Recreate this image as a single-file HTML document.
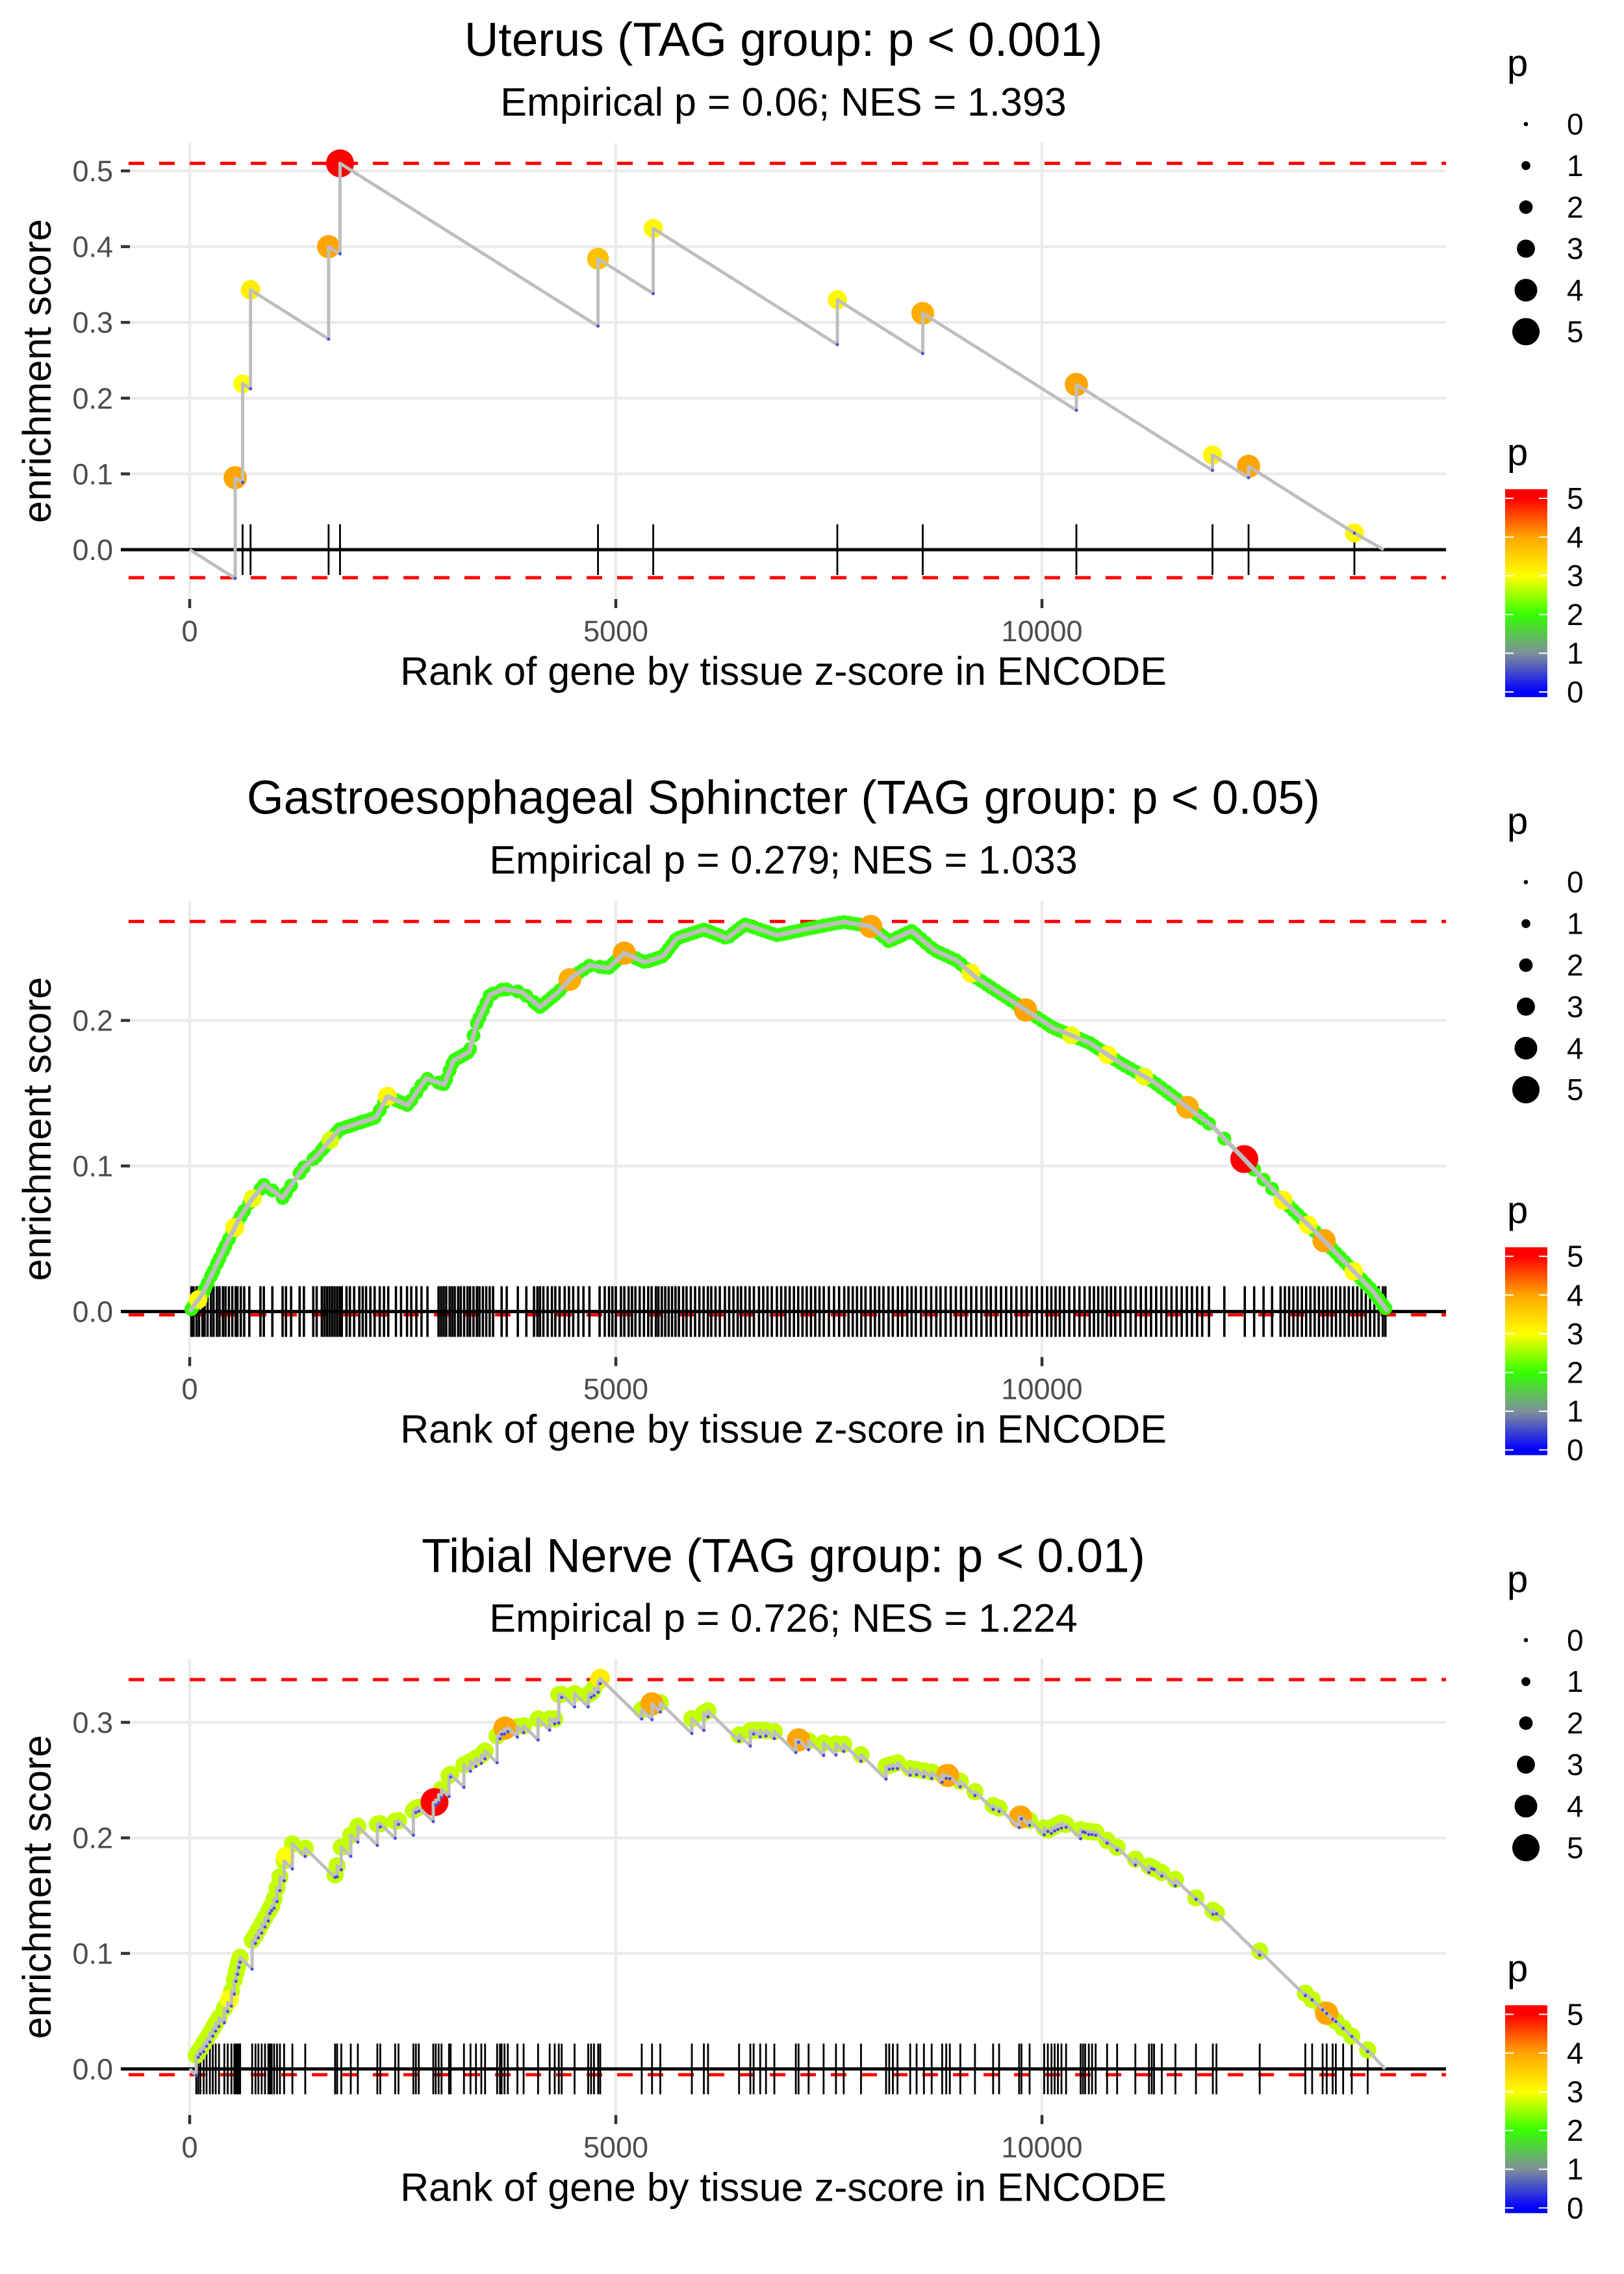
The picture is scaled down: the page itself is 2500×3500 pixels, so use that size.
<!DOCTYPE html>
<html><head><meta charset="utf-8"><title>Enrichment plots</title>
<style>
html,body{margin:0;padding:0;background:#fff;}
svg{display:block;font-family:"Liberation Sans",Arial,sans-serif;}
</style></head>
<body>
<svg id="fig" xmlns="http://www.w3.org/2000/svg" width="2500" height="3500" viewBox="0 0 2500 3500">
<defs>
<linearGradient id="pgrad" x1="0" y1="0" x2="0" y2="1">
<stop offset="0" stop-color="#ff0000"/>
<stop offset="0.044" stop-color="#ff0000"/>
<stop offset="0.230" stop-color="#ffa500"/>
<stop offset="0.417" stop-color="#ffff00"/>
<stop offset="0.603" stop-color="#33ff00"/>
<stop offset="0.789" stop-color="#7f8f9a"/>
<stop offset="0.975" stop-color="#0000ff"/>
<stop offset="1" stop-color="#0000ff"/>
</linearGradient>
</defs>
</svg>
<script>
// ---------------- shared axis data ----------------
const xTicks = [0, 5000, 10000];
const xTickLabels = ["0", "5000", "10000"];
const legendSizes = [0, 1, 2, 3, 4, 5];
const titles = ["Uterus (TAG group: p < 0.001)", "Gastroesophageal Sphincter (TAG group: p < 0.05)", "Tibial Nerve (TAG group: p < 0.01)"];
const subtitles = ["Empirical p = 0.06; NES = 1.393", "Empirical p = 0.279; NES = 1.033", "Empirical p = 0.726; NES = 1.224"];

// ---------------- panel 1 (Uterus) ----------------
const p1HitRank = [534, 621, 714, 1630, 1764, 4791, 5439, 7599, 8601, 10404, 12001, 12424, 13666];
const p1HitES = [0.095, 0.219, 0.343, 0.400, 0.510, 0.384, 0.424, 0.330, 0.312, 0.218, 0.125, 0.110, 0.022];
const p1HitP = [4.0, 3.0, 3.2, 4.0, 5.0, 3.7, 3.1, 3.1, 3.9, 4.0, 3.1, 4.0, 3.1];
const p1YTicks = [0, 0.1, 0.2, 0.3, 0.4, 0.5];
const p1Max = 0.510, p1Min = -0.037;
const p1End = 14009;
const p1MissStep = 0.000071;

// ---------------- panel 2 (Gastroesophageal Sphincter) ----------------
const p2CurveRank = [0,154,288,422,582,716,876,1090,1331,1491,1758,1972,2186,2320,2560,2774,2988,3095,3282,3362,3523,3683,3896,4111,4325,4485,4699,4913,5100,5341,5555,5715,6035,6303,6516,6891,7212,7669,7990,8204,8471,8739,9006,9220,9487,9808,10129,10557,10931,11305,11679,12000,12374,12802,13230,13604,13872,14059];
const p2CurveES = [0,0.0125,0.0289,0.0453,0.0638,0.076,0.0873,0.078,0.0986,0.1068,0.1252,0.1293,0.1334,0.1478,0.1417,0.1601,0.156,0.1724,0.1785,0.197,0.2175,0.2216,0.2195,0.2092,0.2195,0.2297,0.2379,0.2359,0.2462,0.240,0.2441,0.2564,0.2625,0.2564,0.266,0.2585,0.2625,0.2677,0.2646,0.2543,0.2615,0.2482,0.241,0.2297,0.2195,0.2072,0.1949,0.1846,0.1703,0.158,0.1416,0.1273,0.1047,0.078,0.0535,0.0309,0.0146,0];
const p2HitRank = [20,45,80,110,150,175,210,250,280,320,350,390,420,460,500,540,560,600,640,700,830,870,970,1090,1130,1190,1290,1340,1450,1490,1550,1580,1610,1640,1670,1700,1730,1760,1785,1840,1880,1930,1990,2030,2070,2120,2170,2230,2280,2330,2420,2480,2550,2600,2660,2720,2790,2920,2950,2980,3010,3050,3080,3110,3150,3180,3220,3260,3290,3330,3370,3400,3440,3480,3520,3560,3660,3720,3850,3950,4040,4080,4110,4150,4200,4250,4290,4340,4400,4450,4500,4560,4620,4690,4810,4870,4920,4960,5000,5060,5100,5150,5190,5230,5280,5330,5380,5420,5470,5500,5540,5580,5620,5660,5700,5740,5790,5830,5880,5930,5980,6030,6080,6120,6170,6220,6280,6330,6380,6430,6470,6520,6570,6620,6680,6730,6780,6830,6890,6940,6990,7040,7090,7140,7190,7240,7290,7340,7390,7440,7500,7560,7620,7680,7730,7780,7830,7880,7930,7990,8040,8090,8140,8200,8250,8310,8360,8420,8470,8520,8580,8640,8700,8760,8810,8870,8930,8990,9050,9110,9170,9230,9290,9350,9400,9460,9520,9580,9640,9700,9760,9820,9880,9940,10000,10060,10110,10160,10210,10260,10320,10380,10440,10500,10560,10610,10660,10710,10760,10810,10860,10920,10980,11040,11100,11160,11220,11280,11340,11400,11460,11520,11580,11640,11700,11760,11820,11880,11960,12140,12380,12490,12600,12700,12800,12850,12900,12950,13000,13050,13100,13150,13200,13250,13300,13350,13400,13450,13500,13550,13600,13650,13700,13750,13800,13850,13900,13950,14000,14030];
const p2DefaultP = 2.0;
const p2HlRank = [100, 530, 740, 1650, 2320, 4460, 5100, 7990, 9167, 9808, 10343, 10771, 11199, 11707, 12374, 12830, 13124, 13310, 13658];
const p2HlP = [3.0, 3.1, 2.9, 2.8, 3.1, 3.9, 4.0, 4.0, 3.1, 4.0, 2.9, 3.0, 2.9, 3.9, 5.0, 3.1, 3.0, 4.0, 3.0];
const p2YTicks = [0, 0.1, 0.2];
const p2Max = 0.268, p2Min = -0.0023;

// ---------------- panel 3 (Tibial Nerve) ----------------
const p3EnvRank = [0,28,223,466,587,758,976,1122,1195,1341,1706,1779,1973,2216,2459,2654,2873,3043,3213,3432,3626,3699,3918,4088,4283,4331,4501,4696,4817,5304,5425,5522,5887,6082,6446,6592,6762,6860,7112,7262,7449,7674,7877,8171,8305,8454,8706,8893,9042,9214,9427,9748,9855,10069,10229,10497,10630,10818,11085,11299,11566,11807,12047,12555,13090,13170,13357,13438,13625,13822,14026];
const p3EnvES = [0,0.006,0.029,0.060,0.096,0.114,0.143,0.184,0.195,0.192,0.168,0.192,0.210,0.212,0.215,0.2255,0.231,0.254,0.263,0.272,0.290,0.295,0.297,0.303,0.303,0.324,0.325,0.324,0.338,0.311,0.316,0.317,0.303,0.310,0.289,0.293,0.293,0.292,0.285,0.284,0.282,0.281,0.272,0.262,0.265,0.260,0.257,0.254,0.249,0.240,0.228,0.218,0.215,0.207,0.213,0.206,0.205,0.195,0.182,0.174,0.164,0.148,0.135,0.102,0.0655,0.060,0.047,0.042,0.029,0.0164,0];
const p3HitRank = [77,101,126,164,198,237,271,305,344,407,446,490,524,544,563,578,592,733,772,806,845,884,923,942,962,991,1025,1059,1108,1205,1356,1706,1730,1779,1890,1973,2202,2236,2411,2450,2625,2654,2688,2858,2887,2921,2955,3043,3062,3218,3295,3359,3422,3466,3607,3641,3660,3694,3733,3845,3918,4088,4224,4283,4331,4365,4516,4676,4710,4744,4793,4817,5304,5425,5522,5892,6033,6082,6446,6578,6617,6694,6762,6860,7112,7144,7262,7438,7583,7674,7877,8171,8208,8251,8305,8454,8529,8615,8706,8829,8877,8919,9042,9214,9427,9497,9732,9759,9855,10026,10069,10112,10149,10187,10229,10283,10454,10481,10507,10550,10588,10630,10764,10882,11096,11256,11288,11315,11406,11566,11807,12005,12047,12555,13090,13170,13293,13341,13411,13448,13534,13635,13822];
const p3DefaultP = 2.7;
const p3HlRank = [466, 1122, 2873, 3699, 4817, 5425, 7144, 8893, 9748, 13341];
const p3HlP = [3.0, 3.0, 5.0, 4.0, 3.2, 4.0, 4.0, 4.0, 4.0, 4.0];
const p3YTicks = [0, 0.1, 0.2, 0.3];
const p3Max = 0.337, p3Min = -0.005;
const p3End = 14026;
const p3MissStep = 0.000072;

// ---------------- geometry ----------------
const NS = "http://www.w3.org/2000/svg";
const svg = document.getElementById("fig");
const PANEL_H = 3500 / 3;
const PL = 186, PR = 2226, PT = 220, PB = 922;
const X0 = 292, XK = 0.1312;
function xs(r) { return X0 + r * XK; }
function mk(tag, attrs, parent) {
  const e = document.createElementNS(NS, tag);
  for (const k in attrs) e.setAttribute(k, attrs[k]);
  (parent || svg).appendChild(e);
  return e;
}
function lerpHex(a, b, t) {
  const pa = [1,3,5].map(i => parseInt(a.substr(i,2),16));
  const pb = [1,3,5].map(i => parseInt(b.substr(i,2),16));
  return "rgb(" + pa.map((v,i) => Math.round(v + (pb[i]-v)*t)).join(",") + ")";
}
const cstops = ["#0000ff", "#7f8f9a", "#33ff00", "#ffff00", "#ffa500", "#ff0000"];
function pColor(p) {
  const q = Math.max(0, Math.min(5, p));
  const i = Math.min(4, Math.floor(q));
  return lerpHex(cstops[i], cstops[i+1], q - i);
}
function pRadius(p) { return 3.5 + 3.6 * p; }
function interp(xa, ya, x) {
  if (x <= xa[0]) return ya[0];
  for (let i = 1; i < xa.length; i++) {
    if (x <= xa[i]) { const t = (x - xa[i-1]) / (xa[i] - xa[i-1]); return ya[i-1] + t * (ya[i] - ya[i-1]); }
  }
  return ya[ya.length-1];
}

function drawFrame(idx, g, ys, yTicks, esMax, esMin) {
  const off = idx * PANEL_H;
  const t = mk("text", {x: 1206, y: off + 86, "text-anchor": "middle", "font-size": 73, fill: "#000"}, g);
  t.textContent = titles[idx];
  
  
  const st = mk("text", {x: 1206, y: off + 178, "text-anchor": "middle", "font-size": 61, fill: "#000"}, g);
  st.textContent = subtitles[idx];
  
  
  yTicks.forEach(v => {
    const gl = mk("line", {x1: PL, x2: PR, y1: ys(v), y2: ys(v), stroke: "#ebebeb", "stroke-width": 4.5}, g);
    
    
  });
  xTicks.forEach(v => {
    const gl = mk("line", {x1: xs(v), x2: xs(v), y1: off + PT, y2: off + PB, stroke: "#ebebeb", "stroke-width": 4.5}, g);
    
    
  });
  yTicks.forEach(v => {
    const tk = mk("line", {x1: PL, x2: PL + 14, y1: ys(v), y2: ys(v), stroke: "#333", "stroke-width": 4.5}, g);
    
    
    const tl = mk("text", {x: 174, y: ys(v) + 16, "text-anchor": "end", "font-size": 45, fill: "#4d4d4d"}, g);
    tl.textContent = v.toFixed(1);
    
    
  });
  xTicks.forEach((v, i) => {
    const tk = mk("line", {x1: xs(v), x2: xs(v), y1: off + PB, y2: off + PB + 14, stroke: "#333", "stroke-width": 4.5}, g);
    
    
    const tl = mk("text", {x: xs(v), y: off + 987, "text-anchor": "middle", "font-size": 45, fill: "#4d4d4d"}, g);
    tl.textContent = xTickLabels[i];
    
    
  });
  const xt = mk("text", {x: 1206, y: off + 1054, "text-anchor": "middle", "font-size": 61, fill: "#000"}, g);
  xt.textContent = "Rank of gene by tissue z-score in ENCODE";
  
  
  const yt = mk("text", {x: 0, y: 0, "text-anchor": "middle", "font-size": 61, fill: "#000", transform: "translate(78," + (off + 571) + ") rotate(-90)"}, g);
  yt.textContent = "enrichment score";
  
  
  const zl = mk("line", {x1: PL, x2: PR, y1: ys(0), y2: ys(0), stroke: "#000", "stroke-width": 5}, g);
  
  
  [esMax, esMin].forEach(v => {
    const dl = mk("line", {x1: PL, x2: PR, y1: ys(v), y2: ys(v), stroke: "#ff0000", "stroke-width": 5, "stroke-dasharray": "24 23", "stroke-dashoffset": -12}, g);
    
    
  });
}

function drawRug(g, ys, ranks, w) {
  ranks.forEach(r => {
    const l = mk("line", {x1: xs(r), x2: xs(r), y1: ys(0) - 39, y2: ys(0) + 39, stroke: "#000", "stroke-width": w}, g);
    
    
  });
}

function drawLegend(idx) {
  const off = idx * PANEL_H;
  const g = mk("g", {});
  
  
  const lt = mk("text", {x: 2320, y: off + 117, "font-size": 58, fill: "#000"}, g);
  lt.textContent = "p";
  
  
  legendSizes.forEach((s, i) => {
    const cy = off + 191 + i * 63.9;
    const c = mk("circle", {cx: 2349, cy: cy, r: 3.3 + 3.55 * s, fill: "#000"}, g);
    
    
    const tl = mk("text", {x: 2412, y: cy + 16, "font-size": 46, fill: "#000"}, g);
    tl.textContent = String(s);
    
    
  });
  const ct = mk("text", {x: 2320, y: off + 716, "font-size": 58, fill: "#000"}, g);
  ct.textContent = "p";
  
  
  const bar = mk("rect", {x: 2317, y: off + 753, width: 65, height: 320, fill: "url(#pgrad)"}, g);
  
  
  legendSizes.forEach(s => {
    const ty = off + 767 + (5 - s) * 59.6;
    const a = mk("line", {x1: 2317, x2: 2330, y1: ty, y2: ty, stroke: "#fff", "stroke-width": 2}, g);
    
    
    const b = mk("line", {x1: 2369, x2: 2382, y1: ty, y2: ty, stroke: "#fff", "stroke-width": 2}, g);
    
    
    const tl = mk("text", {x: 2412, y: ty + 16, "font-size": 46, fill: "#000"}, g);
    tl.textContent = String(s);
    
    
  });
}

function point(g, r, v, p, ys, name) {
  const c = mk("circle", {cx: xs(r), cy: ys(v), r: pRadius(p), fill: pColor(p)}, g);
  
  
}
function tinyPoint(g, r, v, ys) {
  const c = mk("circle", {cx: xs(r), cy: ys(v), r: 2.4, fill: "#4a4adf"}, g);
  
  
}

// ---------------- Panel 1 ----------------
(function () {
  const off = 0;
  const ys = v => off + 846 - v * 1166;
  const g = mk("g", {});
  
  
  drawFrame(0, g, ys, p1YTicks, p1Max, p1Min);
  drawRug(g, ys, p1HitRank, 2.8);
  let prevR = 0, prevV = 0;
  const pts = [[0, 0]];
  const bottoms = [];
  p1HitRank.forEach((r, i) => {
    const b = prevV - p1MissStep * (r - prevR);
    bottoms.push(b);
    pts.push([r, b]); pts.push([r, p1HitES[i]]);
    prevR = r; prevV = p1HitES[i];
  });
  pts.push([p1End, 0]);
  p1HitRank.forEach((r, i) => point(g, r, p1HitES[i], p1HitP[i], ys, 'hit-point'));
  const path = mk("polyline", {points: pts.map(q => xs(q[0]) + "," + ys(q[1])).join(" "), fill: "none", stroke: "#bebebe", "stroke-width": 5, "stroke-linejoin": "round"}, g);
  
  
  p1HitRank.forEach((r, i) => tinyPoint(g, r, bottoms[i], ys));
  drawLegend(0);
})();

// ---------------- Panel 2 ----------------
(function () {
  const off = PANEL_H;
  const ys = v => off + 851.9 - v * 2240;
  const g = mk("g", {});
  
  
  drawFrame(1, g, ys, p2YTicks, p2Max, p2Min);
  drawRug(g, ys, p2HitRank, 3.6);
  p2HitRank.forEach(r => point(g, r, interp(p2CurveRank, p2CurveES, r), p2DefaultP, ys, 'hit-point'));
  p2HlRank.forEach((r, i) => point(g, r, interp(p2CurveRank, p2CurveES, r), p2HlP[i], ys, 'highlight-hit-point'));
  const path = mk("polyline", {points: p2CurveRank.map((r, i) => xs(r) + "," + ys(p2CurveES[i])).join(" "), fill: "none", stroke: "#bebebe", "stroke-width": 7, "stroke-linejoin": "round"}, g);
  
  
  drawLegend(1);
})();

// ---------------- Panel 3 ----------------
(function () {
  const off = 2 * PANEL_H;
  const ys = v => off + 851 - v * 1778;
  const g = mk("g", {});
  
  
  drawFrame(2, g, ys, p3YTicks, p3Max, p3Min);
  drawRug(g, ys, p3HitRank, 2.8);
  let prevR = 0, prevV = 0;
  const pts = [[0, 0]];
  const peaks = [], bottoms = [];
  p3HitRank.forEach(r => {
    const b = prevV - p3MissStep * (r - prevR);
    const pk = Math.max(b, interp(p3EnvRank, p3EnvES, r));
    bottoms.push(b); peaks.push(pk);
    pts.push([r, b]); pts.push([r, pk]);
    prevR = r; prevV = pk;
  });
  pts.push([p3End, 0]);
  p3HitRank.forEach((r, i) => point(g, r, peaks[i], p3DefaultP, ys, 'hit-point'));
  p3HlRank.forEach((r, i) => point(g, r, interp(p3EnvRank, p3EnvES, r), p3HlP[i], ys, 'highlight-hit-point'));
  const path = mk("polyline", {points: pts.map(q => xs(q[0]) + "," + ys(q[1])).join(" "), fill: "none", stroke: "#bebebe", "stroke-width": 5, "stroke-linejoin": "round"}, g);
  
  
  p3HitRank.forEach((r, i) => tinyPoint(g, r, bottoms[i], ys));
  drawLegend(2);
})();
</script>
</body></html>
